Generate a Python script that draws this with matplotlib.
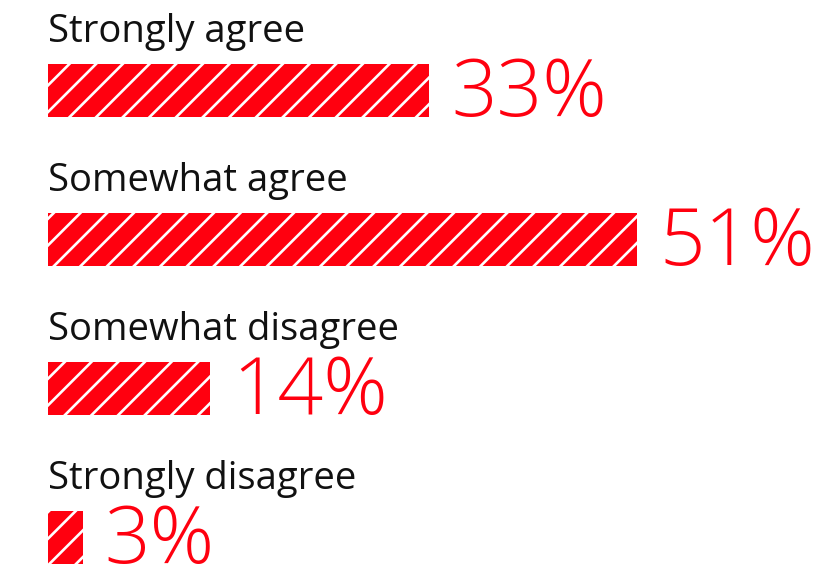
import matplotlib
matplotlib.use('Agg')
import matplotlib.pyplot as plt

categories = ['Strongly agree', 'Somewhat agree', 'Somewhat disagree', 'Strongly disagree']
values = [33, 51, 14, 3]
red = '#ff000f'

plt.rcParams['hatch.linewidth'] = 1.2

dpi = 160
fig = plt.figure(figsize=(836 / dpi, 569 / dpi), dpi=dpi)
ax = fig.add_axes([0, 0, 1, 1])
ax.axis('off')

# 1 % = 11.55 px, bars start at x=48px; rows 149px apart
ax.set_xlim(-48 / 11.55, (836 - 48) / 11.55)
ax.set_ylim((569 - 90.5) / 149, -90.5 / 149)

ypos = list(range(len(categories)))
ax.barh(ypos, values, height=0.356, left=0, color=red, edgecolor='white',
        linewidth=0, hatch='//')

for i, (cat, v) in enumerate(zip(categories, values)):
    ax.text(0, i - 0.39, cat, fontsize=17.2, family='Open Sans',
            color='#111111', va='center', ha='left')
    ax.annotate(f'{v}%', xy=(v, i), xytext=(10, -2), textcoords='offset points',
                fontsize=36, family='Open Sans', fontweight='light',
                color=red, va='center', ha='left')

fig.savefig('out.png', dpi=dpi)
